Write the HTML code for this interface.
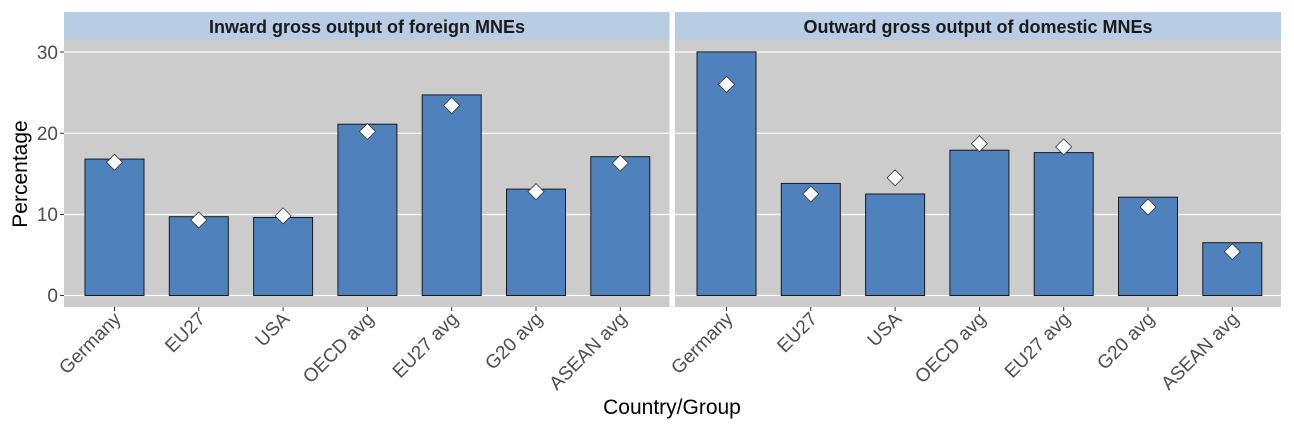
<!DOCTYPE html>
<html><head><meta charset="utf-8"><style>body{margin:0;background:#fff}svg{display:block}text{font-family:"Liberation Sans",Arial,sans-serif}</style></head>
<body>
<svg width="1294" height="426" xmlns="http://www.w3.org/2000/svg">
<rect width="1294" height="426" fill="#fff"/>
<rect x="64" y="40" width="605.5" height="267" fill="#cccccc"/>
<rect x="675" y="40" width="606" height="267" fill="#cccccc"/>
<rect x="64" y="12" width="605.5" height="28" fill="#b8cce4"/>
<rect x="675" y="12" width="606" height="28" fill="#b8cce4"/>
<text x="367" y="33" font-size="18" font-weight="bold" fill="#1a1a1a" text-anchor="middle">Inward gross output of foreign MNEs</text>
<text x="978" y="33" font-size="18" font-weight="bold" fill="#1a1a1a" text-anchor="middle">Outward gross output of domestic MNEs</text>
<g stroke="#fff" stroke-width="1.2">
<line x1="64" x2="669.5" y1="52" y2="52"/><line x1="64" x2="669.5" y1="133.3" y2="133.3"/><line x1="64" x2="669.5" y1="214.5" y2="214.5"/><line x1="64" x2="669.5" y1="295.5" y2="295.5"/>
<line x1="675" x2="1281" y1="52" y2="52"/><line x1="675" x2="1281" y1="133.3" y2="133.3"/><line x1="675" x2="1281" y1="214.5" y2="214.5"/><line x1="675" x2="1281" y1="295.5" y2="295.5"/>
</g>
<g stroke="#333" stroke-width="1"><line x1="60" x2="64" y1="52" y2="52"/><line x1="60" x2="64" y1="133.3" y2="133.3"/><line x1="60" x2="64" y1="214.5" y2="214.5"/><line x1="60" x2="64" y1="295.5" y2="295.5"/></g>
<g font-size="19" fill="#4d4d4d" text-anchor="end"><text x="58" y="59">30</text><text x="58" y="140">20</text><text x="58" y="221">10</text><text x="58" y="302">0</text></g>
<text transform="translate(27,174) rotate(-90)" font-size="21" fill="#000" text-anchor="middle">Percentage</text>
<text x="672" y="414" font-size="21" fill="#000" text-anchor="middle">Country/Group</text>
<g fill="#4f81bd" stroke="#1a1a1a" stroke-width="1">
<rect x="85" y="159.1" width="59" height="136.4"/>
<rect x="169.3" y="216.7" width="59" height="78.8"/>
<rect x="253.6" y="217.5" width="59" height="78"/>
<rect x="337.9" y="124.2" width="59" height="171.3"/>
<rect x="422.2" y="94.9" width="59" height="200.6"/>
<rect x="506.5" y="189.1" width="59" height="106.4"/>
<rect x="590.8" y="156.7" width="59" height="138.8"/>
<rect x="697" y="51.9" width="59" height="243.6"/>
<rect x="781.3" y="183.4" width="59" height="112.1"/>
<rect x="865.6" y="194" width="59" height="101.5"/>
<rect x="949.9" y="150.2" width="59" height="145.3"/>
<rect x="1034.2" y="152.6" width="59" height="142.9"/>
<rect x="1118.5" y="197.2" width="59" height="98.3"/>
<rect x="1202.8" y="242.7" width="59" height="52.8"/>
</g>
<g fill="#fff" stroke="#333" stroke-width="0.8">
<path d="M114.5 154.3l8 8l-8 8l-8-8z"/>
<path d="M198.8 212l8 8l-8 8l-8-8z"/>
<path d="M283.1 207.9l8 8l-8 8l-8-8z"/>
<path d="M367.4 123.5l8 8l-8 8l-8-8z"/>
<path d="M451.7 97.5l8 8l-8 8l-8-8z"/>
<path d="M536 183.6l8 8l-8 8l-8-8z"/>
<path d="M620.3 155.1l8 8l-8 8l-8-8z"/>
<path d="M726.5 76.4l8 8l-8 8l-8-8z"/>
<path d="M810.8 186l8 8l-8 8l-8-8z"/>
<path d="M895.1 169.8l8 8l-8 8l-8-8z"/>
<path d="M979.4 135.7l8 8l-8 8l-8-8z"/>
<path d="M1063.7 138.9l8 8l-8 8l-8-8z"/>
<path d="M1148 199l8 8l-8 8l-8-8z"/>
<path d="M1232.3 243.7l8 8l-8 8l-8-8z"/>
</g>
<g stroke="#333" stroke-width="1">
<line x1="114.5" x2="114.5" y1="307" y2="311"/><line x1="198.8" x2="198.8" y1="307" y2="311"/><line x1="283.1" x2="283.1" y1="307" y2="311"/><line x1="367.4" x2="367.4" y1="307" y2="311"/><line x1="451.7" x2="451.7" y1="307" y2="311"/><line x1="536" x2="536" y1="307" y2="311"/><line x1="620.3" x2="620.3" y1="307" y2="311"/>
<line x1="726.5" x2="726.5" y1="307" y2="311"/><line x1="810.8" x2="810.8" y1="307" y2="311"/><line x1="895.1" x2="895.1" y1="307" y2="311"/><line x1="979.4" x2="979.4" y1="307" y2="311"/><line x1="1063.7" x2="1063.7" y1="307" y2="311"/><line x1="1148" x2="1148" y1="307" y2="311"/><line x1="1232.3" x2="1232.3" y1="307" y2="311"/>
</g>
<g font-size="19" fill="#4d4d4d" text-anchor="end">
<text transform="translate(122,320) rotate(-45)">Germany</text>
<text transform="translate(206.3,320) rotate(-45)">EU27</text>
<text transform="translate(290.6,320) rotate(-45)">USA</text>
<text transform="translate(374.9,320) rotate(-45)">OECD avg</text>
<text transform="translate(459.2,320) rotate(-45)">EU27 avg</text>
<text transform="translate(543.5,320) rotate(-45)">G20 avg</text>
<text transform="translate(627.8,320) rotate(-45)">ASEAN avg</text>
<text transform="translate(734,320) rotate(-45)">Germany</text>
<text transform="translate(818.3,320) rotate(-45)">EU27</text>
<text transform="translate(902.6,320) rotate(-45)">USA</text>
<text transform="translate(986.9,320) rotate(-45)">OECD avg</text>
<text transform="translate(1071.2,320) rotate(-45)">EU27 avg</text>
<text transform="translate(1155.5,320) rotate(-45)">G20 avg</text>
<text transform="translate(1239.8,320) rotate(-45)">ASEAN avg</text>
</g>
</svg>
</body></html>
